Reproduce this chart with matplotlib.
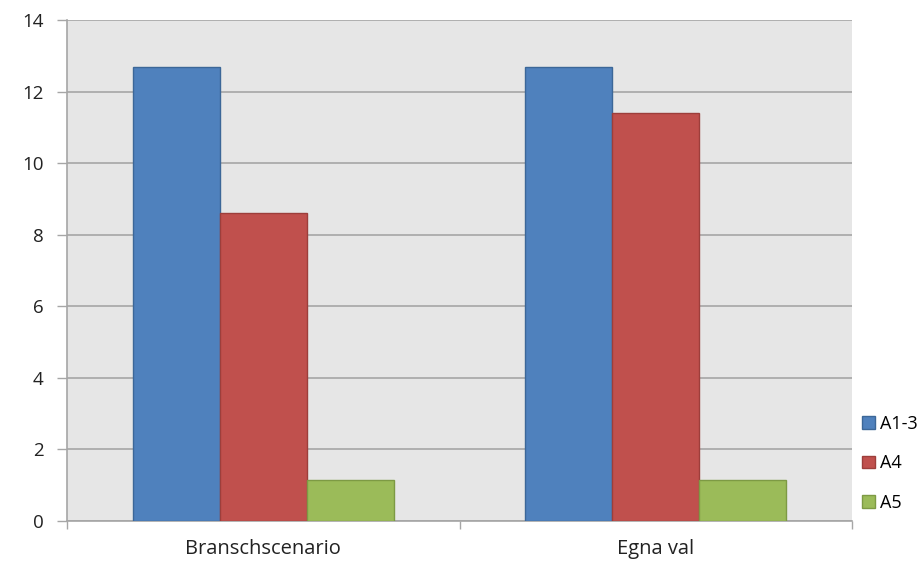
import numpy as np
import matplotlib.pyplot as plt

plt.rcParams['font.family'] = ['Open Sans', 'DejaVu Sans']

categories = ['Branschscenario', 'Egna val']
series_names = ['A1-3', 'A4', 'A5']
a13 = [12.7, 12.7]
a4 = [8.6, 11.4]
a5 = [1.15, 1.15]
yticks = [0, 2, 4, 6, 8, 10, 12, 14]

colors = ['#4f81bd', '#c0504d', '#9bbb59']
edges = ['#3c6798', '#9d3e3b', '#7d9a44']

fig = plt.figure(figsize=(9.23, 5.63), dpi=100)
ax = fig.add_axes([67/923, 42/563, (852-67)/923, (521-20)/563])
ax.set_facecolor('#e6e6e6')

x = np.arange(len(categories))
w = 0.222
for i, vals in enumerate([a13, a4, a5]):
    ax.bar(x + (i-1)*w, vals, w, color=colors[i], edgecolor=edges[i],
           linewidth=1, label=series_names[i], zorder=3)

ax.set_ylim(0, 14)
ax.set_xlim(-0.5, 1.5)
ax.set_yticks(yticks)
ax.yaxis.grid(True, color='#a6a6a6', linewidth=1.2, zorder=0)
ax.tick_params(axis='y', length=7, width=1, color='#a6a6a6', labelsize=13.5,
               pad=10, labelcolor='#222222')

ax.set_xticks(x)
ax.set_xticklabels(categories, fontsize=14.5, color='#222222')
ax.set_xticks([-0.5, 0.5, 1.5], minor=True)
ax.tick_params(axis='x', which='major', length=0, pad=13)
ax.tick_params(axis='x', which='minor', length=6, width=1, color='#a6a6a6')

for s in ['top', 'right']:
    ax.spines[s].set_visible(False)
for s in ['left', 'bottom']:
    ax.spines[s].set_color('#a6a6a6')
    ax.spines[s].set_linewidth(1.2)

ax.legend(loc='center left', bbox_to_anchor=(0.992, 0.115), frameon=False,
          handlelength=0.7, handleheight=0.7, handletextpad=0.3,
          labelspacing=1.2, prop={'family': ['Open Sans'], 'size': 13})

fig.savefig('out.png', dpi=100)
